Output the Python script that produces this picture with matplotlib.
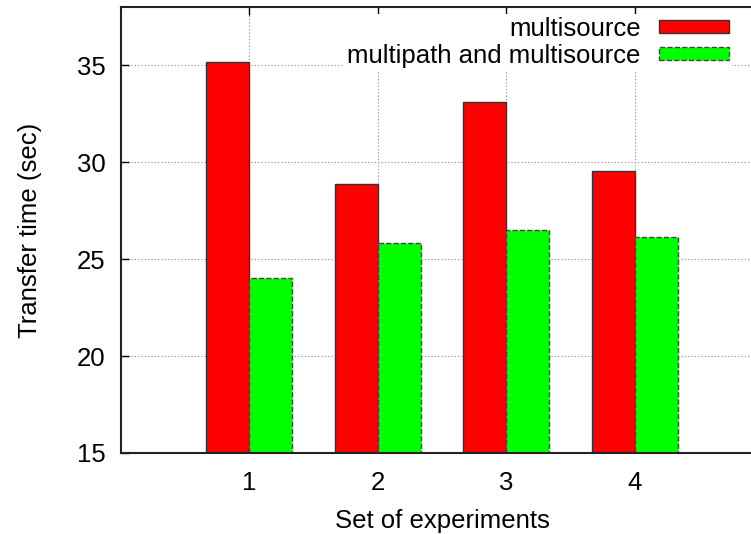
import matplotlib
matplotlib.use("Agg")
import matplotlib.pyplot as plt
import numpy as np

plt.rcParams.update({"font.family": ["Liberation Sans", "DejaVu Sans"], "font.size": 18.5})

experiments = [1, 2, 3, 4]
multisource = [35.15, 28.85, 33.1, 29.55]
multipath_multisource = [24.05, 25.85, 26.5, 26.15]
labels = ["multisource", "multipath and multisource"]

fig = plt.figure(figsize=(7.51, 5.34), dpi=100)
ax = fig.add_axes([121 / 751, 81 / 534, 642 / 751, 446 / 534])

x = np.array(experiments, dtype=float)
w = 0.335
ax.bar(x - w / 2, multisource, w, bottom=0, color="#ff0000", edgecolor="#333333",
       linewidth=1.0, label=labels[0], zorder=2)
ax.bar(x + w / 2, multipath_multisource, w, bottom=0, color="#00ff00", edgecolor="#444444",
       linewidth=1.0, linestyle="--", label=labels[1], zorder=2)

ax.set_xlim(0, 5)
ax.set_ylim(15, 38)
ax.set_xticks(experiments)
ax.set_yticks([15, 20, 25, 30, 35])
ax.tick_params(direction="in", length=6, width=1, top=True, right=True, colors="black")
ax.tick_params(axis="x", pad=13)
ax.tick_params(axis="y", pad=11)
ax.grid(True, color="#888888", linestyle=(0, (1, 2)), linewidth=0.8, zorder=0)
ax.set_axisbelow(True)
for s in ax.spines.values():
    s.set_linewidth(1.5)
    s.set_color("#222222")

ax.set_xlabel("Set of experiments", labelpad=10)
ax.set_ylabel("Transfer time (sec)", labelpad=25)

leg = ax.legend(loc="upper right", bbox_to_anchor=(732 / 751, 1 - 14 / 534),
                bbox_transform=fig.transFigure, markerfirst=False,
                frameon=True, fancybox=False, edgecolor="none", facecolor="white",
                framealpha=1, handlelength=2.75, handleheight=0.38, labelspacing=0.12,
                handletextpad=0.7, borderaxespad=0, borderpad=0.1)
for t in leg.get_texts():
    t.set_ha("right")
leg._legend_box.align = "right"

fig.savefig("out.png", dpi=100)
